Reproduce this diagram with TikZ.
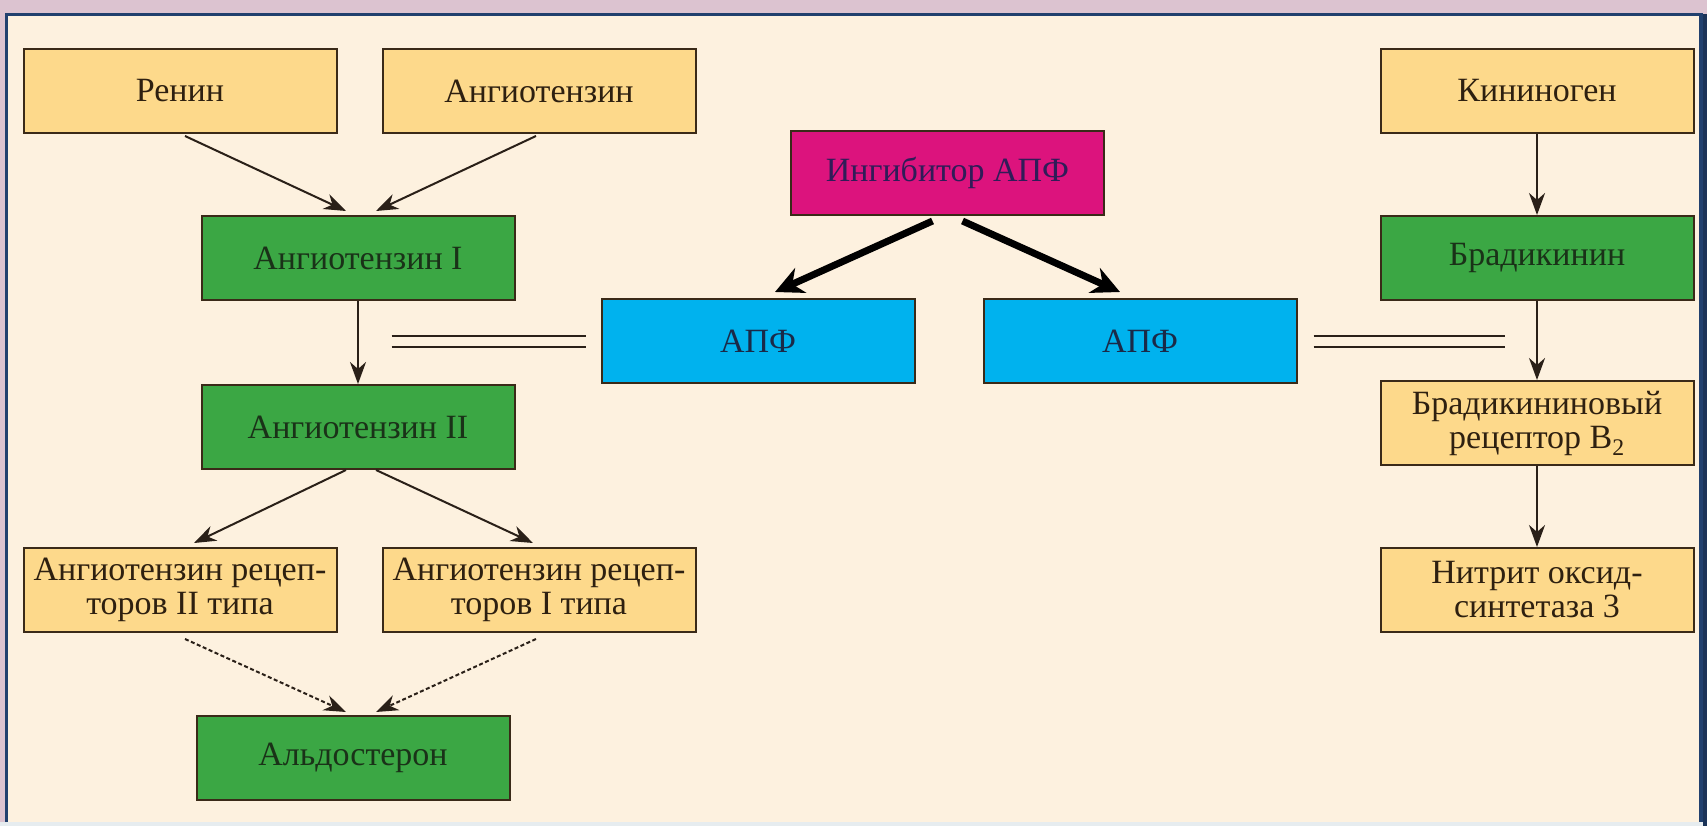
\documentclass[tikz,border=0pt]{standalone}
\usepackage{fontspec}
\setmainfont{Liberation Serif}
\usetikzlibrary{arrows.meta,calc}
\definecolor{cream}{HTML}{FDF1DF}
\definecolor{orng}{HTML}{FDD98B}
\definecolor{grn}{HTML}{3BA744}
\definecolor{cyn}{HTML}{00B2EE}
\definecolor{mgt}{HTML}{DC137D}
\definecolor{frm}{HTML}{21406E}
\definecolor{band}{HTML}{DCC3D0}
\definecolor{bstrip}{HTML}{E6ECEF}
\definecolor{boxline}{HTML}{3A2A18}
\definecolor{arrcol}{HTML}{2A2018}
\definecolor{txtor}{HTML}{2E2010}
\definecolor{txtgr}{HTML}{1A3218}
\definecolor{txtcy}{HTML}{1A2A48}
\definecolor{txtmg}{HTML}{301C58}
\begin{document}
\begin{tikzpicture}[x=1pt,y=-1pt,
  box/.style={draw=boxline, line width=2pt, minimum width=313pt, minimum height=84pt,
    inner sep=0pt, align=center, font=\fontsize{34}{34}\selectfont},
  orbox/.style={box, fill=orng, text=txtor},
  grbox/.style={box, fill=grn, text=txtgr},
  cybox/.style={box, fill=cyn, text=txtcy},
  mgbox/.style={box, fill=mgt, text=txtmg},
  arr/.style={-{Stealth[length=22pt,width=16pt,inset=7pt]}, line width=2pt, draw=arrcol},
  darr/.style={arr, dash pattern=on 4pt off 2.5pt},
  tarr/.style={-{Stealth[length=28pt,width=27pt,inset=9pt]}, line width=7pt, draw=black},
  dbl/.style={line width=2pt, draw=arrcol}]
\useasboundingbox (0,0) rectangle (1707,826);
% background and frame
\fill[band] (0,0) rectangle (1707,826);
\fill[bstrip] (0,822) rectangle (1707,826);
\fill[cream] (7,15) rectangle (1701,822);
\draw[frm, line width=3.5pt] (6.5,822) -- (6.5,14.5) -- (1701,14.5) -- (1701,822);
\fill[frm!80!black] (1703,14) rectangle (1707,826);

% nodes
\node[orbox] (renin) at (180,91) {Ренин};
\node[orbox] (angT) at (539,91) {Ангиотензин};
\node[grbox] (ang1) at (358,258) {Ангиотензин I};
\node[grbox] (ang2) at (358,427) {Ангиотензин II};
\node[orbox] (rec2) at (180,590) {Ангиотензин рецеп-\\торов II типа};
\node[orbox] (rec1) at (539,590) {Ангиотензин рецеп-\\торов I типа};
\node[grbox] (aldo) at (353,758) {Альдостерон};
\node[mgbox] (inh) at (947.5,173) {Ингибитор АПФ};
\node[cybox] (apfL) at (758,341) {АПФ};
\node[cybox] (apfR) at (1140,341) {АПФ};
\node[orbox] (kin) at (1537,91) {Кининоген};
\node[grbox] (brad) at (1537,258) {Брадикинин};
\node[orbox] (recB) at (1537,423) {Брадикининовый\\рецептор В\textsubscript{2}};
\node[orbox] (nit) at (1537,590) {Нитрит оксид-\\синтетаза 3};

% connectors
\draw[arr] ([xshift=5pt,yshift=-2pt]renin.south) -- ([xshift=-12pt,yshift=4pt]ang1.north);
\draw[arr] ([xshift=-3pt,yshift=-2pt]angT.south) -- ([xshift=18pt,yshift=4pt]ang1.north);
\draw[arr] (ang1.south) -- (ang2.north);
\draw[arr] ([xshift=-12pt]ang2.south) -- ([xshift=14pt,yshift=4pt]rec2.north);
\draw[arr] ([xshift=18pt]ang2.south) -- ([xshift=-6pt,yshift=4pt]rec1.north);
\draw[darr] ([xshift=5pt,yshift=-6pt]rec2.south) -- ([xshift=-7pt,yshift=3pt]aldo.north);
\draw[darr] ([xshift=-3pt,yshift=-6pt]rec1.south) -- ([xshift=23pt,yshift=3pt]aldo.north);
\draw[tarr] ([xshift=-15pt,yshift=-5pt]inh.south) -- ([xshift=17pt,yshift=6pt]apfL.north);
\draw[tarr] ([xshift=15pt,yshift=-5pt]inh.south) -- ([xshift=-20pt,yshift=6pt]apfR.north);
\draw[arr] (kin.south) -- (brad.north);
\draw[arr] (brad.south) -- (recB.north);
\draw[arr] (recB.south) -- (nit.north);

% double lines
\coordinate (dLa) at ([xshift=-209pt,yshift=5.5pt]apfL.west);
\coordinate (dLb) at ([xshift=-15pt,yshift=5.5pt]apfL.west);
\coordinate (dLc) at ([xshift=-209pt,yshift=-5.5pt]apfL.west);
\coordinate (dLd) at ([xshift=-15pt,yshift=-5.5pt]apfL.west);
\draw[dbl] (dLa) -- (dLb);
\draw[dbl] (dLc) -- (dLd);
\coordinate (dRa) at ([xshift=16pt,yshift=5.5pt]apfR.east);
\coordinate (dRb) at ([xshift=207pt,yshift=5.5pt]apfR.east);
\coordinate (dRc) at ([xshift=16pt,yshift=-5.5pt]apfR.east);
\coordinate (dRd) at ([xshift=207pt,yshift=-5.5pt]apfR.east);
\draw[dbl] (dRa) -- (dRb);
\draw[dbl] (dRc) -- (dRd);
\end{tikzpicture}
\end{document}
